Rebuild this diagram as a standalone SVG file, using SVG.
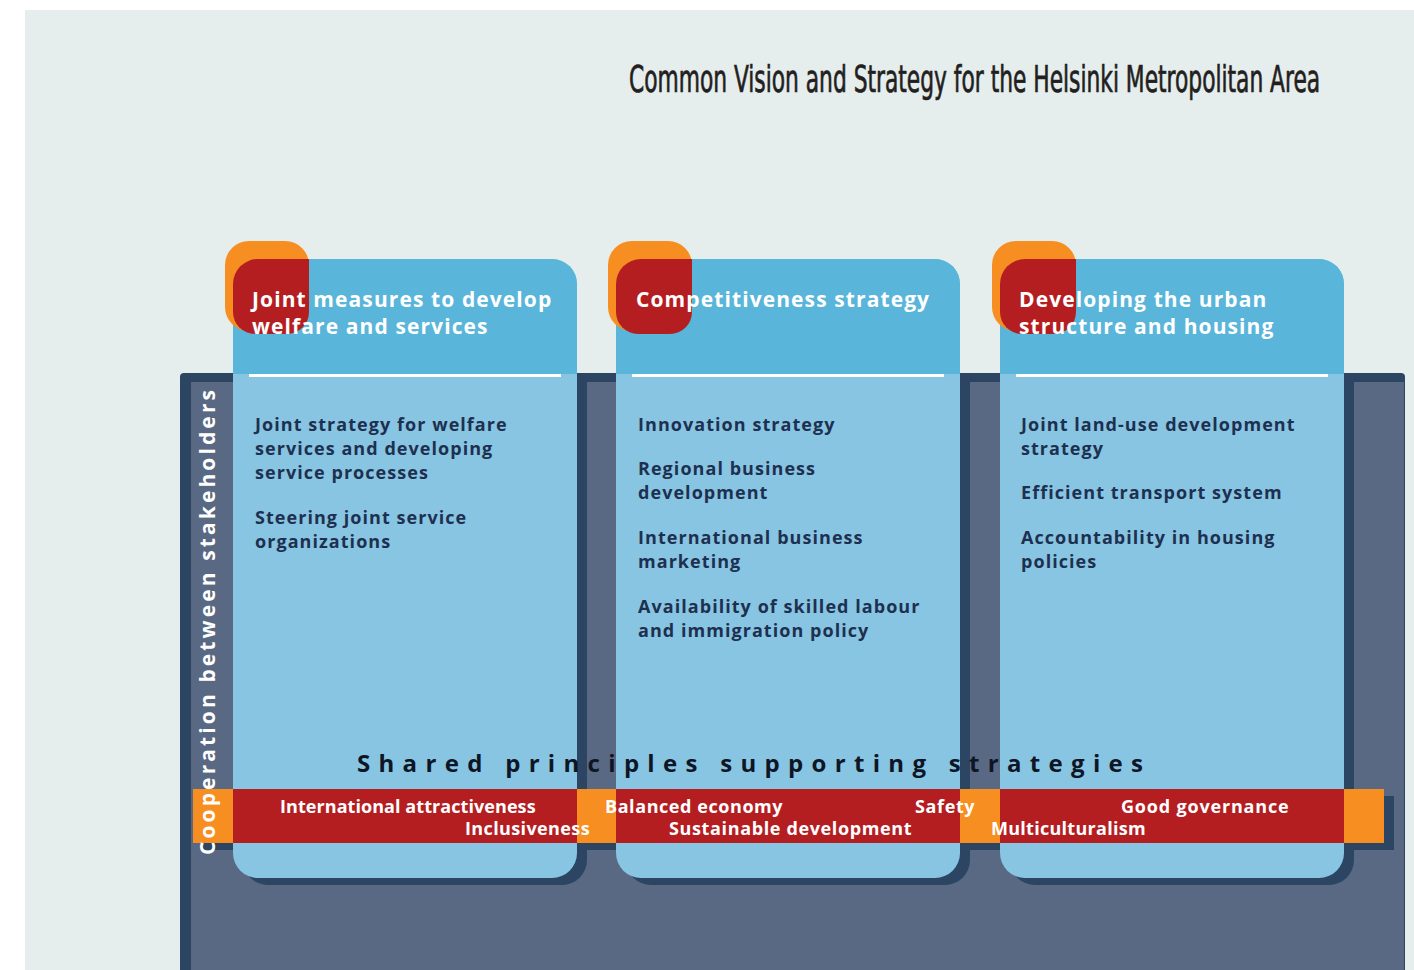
<svg xmlns="http://www.w3.org/2000/svg" width="1414" height="970" viewBox="0 0 1414 970">
<style>
.hd{font-family:"Open Sans","Noto Sans","DejaVu Sans",sans-serif;font-weight:700;font-size:21px;letter-spacing:1.1px;fill:#ffffff}
.bt{font-family:"Open Sans","Noto Sans","DejaVu Sans",sans-serif;font-weight:700;font-size:18px;letter-spacing:1.05px;fill:#1e3050}
.bd{font-family:"Open Sans","Noto Sans","DejaVu Sans",sans-serif;font-weight:700;font-size:18px;letter-spacing:0.4px;fill:#ffffff}
.shadow{fill:#2b4562}
.card{fill:#88c5e2}
.head{fill:#59b5d9}
.org{fill:#f68e21}
.red{fill:#b51e21}
</style>
<rect x="0" y="0" width="1414" height="970" fill="#ffffff"/>
<rect x="25" y="10" width="1389" height="960" fill="#e5eeed"/>
<text transform="translate(629,92) scale(0.74,1)" x="0" y="0" font-family="Liberation Sans Narrow,DejaVu Sans Condensed,Liberation Sans,sans-serif" font-size="37" fill="#231f20" stroke="#231f20" stroke-width="0.7" textLength="934" lengthAdjust="spacingAndGlyphs">Common Vision and Strategy for the Helsinki Metropolitan Area</text>

<g id="panel">
<rect x="180" y="373" width="1225" height="610" rx="4" fill="#2b4562"/>
<rect x="191" y="382" width="1213" height="600" fill="#596983"/>
</g>

<g id="band-shadow">
<rect x="203" y="796" width="1191" height="54" class="shadow"/>
</g>

<g id="card1">
<path class="shadow" d="M243,373 H587 V860 A25,25 0 0 1 562,885 H268 A25,25 0 0 1 243,860 Z"/>
<rect class="card" x="233" y="259" width="344" height="619" rx="25"/>
<path class="head" d="M233,374 V284 A25,25 0 0 1 258,259 H552 A25,25 0 0 1 577,284 V374 Z"/>
<rect x="249" y="374" width="312" height="3" fill="#ffffff"/>
<rect class="org" x="225" y="241" width="84" height="90" rx="24"/>
<path class="red" d="M233,284 A25,25 0 0 1 258,259 H309 V312 A22,22 0 0 1 287,334 H255 A22,22 0 0 1 233,312 Z"/>
<text class="hd" x="252" y="307">Joint measures to develop</text>
<text class="hd" x="252" y="334">welfare and services</text>
<text class="bt" x="255" y="431">Joint strategy for welfare</text>
<text class="bt" x="255" y="455">services and developing</text>
<text class="bt" x="255" y="479">service processes</text>
<text class="bt" x="255" y="524">Steering joint service</text>
<text class="bt" x="255" y="548">organizations</text>
</g>

<g id="card2">
<path class="shadow" d="M626,373 H970 V860 A25,25 0 0 1 945,885 H651 A25,25 0 0 1 626,860 Z"/>
<rect class="card" x="616" y="259" width="344" height="619" rx="25"/>
<path class="head" d="M616,374 V284 A25,25 0 0 1 641,259 H935 A25,25 0 0 1 960,284 V374 Z"/>
<rect x="632" y="374" width="312" height="3" fill="#ffffff"/>
<rect class="org" x="608" y="241" width="84" height="90" rx="24"/>
<path class="red" d="M616,284 A25,25 0 0 1 641,259 H692 V312 A22,22 0 0 1 670,334 H638 A22,22 0 0 1 616,312 Z"/>
<text class="hd" x="636" y="307">Competitiveness strategy</text>
<text class="bt" x="638" y="431">Innovation strategy</text>
<text class="bt" x="638" y="475">Regional business</text>
<text class="bt" x="638" y="499">development</text>
<text class="bt" x="638" y="544">International business</text>
<text class="bt" x="638" y="568">marketing</text>
<text class="bt" x="638" y="613">Availability of skilled labour</text>
<text class="bt" x="638" y="637">and immigration policy</text>
</g>

<g id="card3">
<path class="shadow" d="M1010,373 H1354 V860 A25,25 0 0 1 1329,885 H1035 A25,25 0 0 1 1010,860 Z"/>
<rect class="card" x="1000" y="259" width="344" height="619" rx="25"/>
<path class="head" d="M1000,374 V284 A25,25 0 0 1 1025,259 H1319 A25,25 0 0 1 1344,284 V374 Z"/>
<rect x="1016" y="374" width="312" height="3" fill="#ffffff"/>
<rect class="org" x="992" y="241" width="84" height="90" rx="24"/>
<path class="red" d="M1000,284 A25,25 0 0 1 1025,259 H1076 V312 A22,22 0 0 1 1054,334 H1022 A22,22 0 0 1 1000,312 Z"/>
<text class="hd" x="1019" y="307">Developing the urban</text>
<text class="hd" x="1019" y="334">structure and housing</text>
<text class="bt" x="1021" y="431">Joint land-use development</text>
<text class="bt" x="1021" y="455">strategy</text>
<text class="bt" x="1021" y="499">Efficient transport system</text>
<text class="bt" x="1021" y="544">Accountability in housing</text>
<text class="bt" x="1021" y="568">policies</text>
</g>

<g id="principles">
<text x="357" y="772" font-family="Open Sans,Noto Sans,DejaVu Sans,sans-serif" font-weight="700" font-size="24" fill="#0e1626" textLength="786" lengthAdjust="spacing">Shared principles supporting strategies</text>
<rect class="red" x="233" y="789" width="1111" height="54"/>
<rect class="org" x="193" y="789" width="40" height="54"/>
<rect class="org" x="577" y="789" width="39" height="54"/>
<rect class="org" x="960" y="789" width="40" height="54"/>
<rect class="org" x="1344" y="789" width="40" height="54"/>
<text class="bd" x="280" y="813" textLength="256" lengthAdjust="spacing">International attractiveness</text>
<text class="bd" x="465" y="835" textLength="125" lengthAdjust="spacing">Inclusiveness</text>
<text class="bd" x="605" y="813" textLength="178" lengthAdjust="spacing">Balanced economy</text>
<text class="bd" x="669" y="835" textLength="243" lengthAdjust="spacing">Sustainable development</text>
<text class="bd" x="915" y="813" textLength="60" lengthAdjust="spacing">Safety</text>
<text class="bd" x="1121" y="813" textLength="168" lengthAdjust="spacing">Good governance</text>
<text class="bd" x="991" y="835" textLength="155" lengthAdjust="spacing">Multiculturalism</text>
</g>

<g id="cooperation">
<text transform="translate(215,855) rotate(-90)" x="0" y="0" font-family="Open Sans,Noto Sans,DejaVu Sans,sans-serif" font-weight="700" font-size="21" fill="#ffffff" textLength="465" lengthAdjust="spacing">Cooperation between stakeholders</text>
</g>

<g id="connectors"></g>
</svg>
